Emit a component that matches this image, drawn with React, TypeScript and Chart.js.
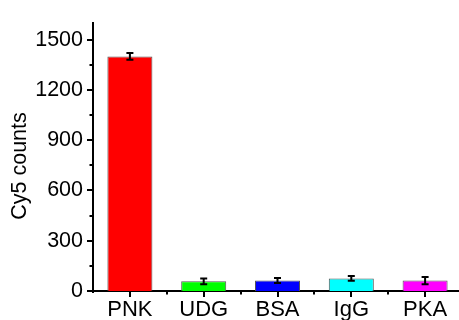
import React, { useEffect, useRef } from "react";
import { Chart, registerables } from "chart.js";

Chart.register(...registerables);

const categories = ["PNK", "UDG", "BSA", "IgG", "PKA"];
const values = [1400, 58, 62, 75, 62];
const errors = [20, 17, 15, 14, 22];
const barColors = ["#ff0000", "#00ff00", "#0000ff", "#00ffff", "#ff00ff"];
const yMajorTicks = [0, 300, 600, 900, 1200, 1500];
const yMinorTicks = [150, 450, 750, 1050, 1350];
const yMax = 1600;
const yTitle = "Cy5 counts";

const FONT = "'Liberation Sans', Arial, sans-serif";

const decorPlugin = {
  id: "decor",
  afterDatasetsDraw(chart: any) {
    const ctx = chart.ctx;
    const x = chart.scales.x;
    const y = chart.scales.y;
    ctx.save();
    ctx.strokeStyle = "#000";
    ctx.lineWidth = 2;
    values.forEach((v, i) => {
      const cx = x.getPixelForValue(i);
      const top = y.getPixelForValue(v + errors[i]);
      const bot = y.getPixelForValue(v - errors[i]);
      ctx.beginPath();
      ctx.moveTo(cx, top);
      ctx.lineTo(cx, bot);
      ctx.moveTo(cx - 3.5, top);
      ctx.lineTo(cx + 3.5, top);
      ctx.moveTo(cx - 3.5, bot);
      ctx.lineTo(cx + 3.5, bot);
      ctx.stroke();
    });
    ctx.restore();
  },
  afterDraw(chart: any) {
    const ctx = chart.ctx;
    const x = chart.scales.x;
    const y = chart.scales.y;
    const area = chart.chartArea;
    ctx.save();
    ctx.strokeStyle = "#000";
    ctx.lineWidth = 2;
    ctx.beginPath();
    // slight axis overhang at the origin
    ctx.moveTo(area.left - 3, area.bottom);
    ctx.lineTo(area.left, area.bottom);
    ctx.moveTo(area.left, area.bottom);
    ctx.lineTo(area.left, area.bottom + 2);
    yMajorTicks.forEach((v) => {
      const py = Math.round(y.getPixelForValue(v));
      ctx.moveTo(area.left - 6, py);
      ctx.lineTo(area.left, py);
    });
    yMinorTicks.forEach((v) => {
      const py = Math.round(y.getPixelForValue(v));
      ctx.moveTo(area.left - 3.5, py);
      ctx.lineTo(area.left, py);
    });
    categories.forEach((_, i) => {
      const px = Math.round(x.getPixelForValue(i));
      ctx.moveTo(px, area.bottom);
      ctx.lineTo(px, area.bottom + 6);
      if (i > 0) {
        const mx = Math.round((x.getPixelForValue(i) + x.getPixelForValue(i - 1)) / 2);
        ctx.moveTo(mx, area.bottom);
        ctx.lineTo(mx, area.bottom + 3.5);
      }
    });
    ctx.stroke();
    ctx.fillStyle = "#000";
    ctx.font = `21.5px ${FONT}`;
    ctx.textAlign = "center";
    ctx.textBaseline = "middle";
    ctx.translate(20, 166);
    ctx.rotate(-Math.PI / 2);
    ctx.fillText(yTitle, 0, 0);
    ctx.restore();
  },
};

export default function App() {
  const ref = useRef<HTMLCanvasElement>(null);
  useEffect(() => {
    if (!ref.current) return;
    const chart = new Chart(ref.current, {
      type: "bar",
      data: {
        labels: categories,
        datasets: [
          {
            data: values,
            backgroundColor: barColors,
            borderColor: "#555555",
            borderWidth: 1,
            barPercentage: 0.61,
            categoryPercentage: 1,
          },
        ],
      },
      options: {
        animation: false,
        responsive: false,
        devicePixelRatio: 1,
        layout: { padding: { top: 15, right: 0, left: 0, bottom: 0 } },
        plugins: { legend: { display: false }, tooltip: { enabled: false } },
        scales: {
          x: {
            grid: { display: false, drawTicks: false },
            border: { display: true, color: "#000", width: 2 },
            ticks: { color: "#000", font: { family: FONT, size: 22 }, padding: 6, maxRotation: 0 },
            afterFit: (s: any) => {
              s.height = 29;
            },
          },
          y: {
            min: 0,
            max: yMax,
            grid: { display: false, drawTicks: false },
            border: { display: true, color: "#000", width: 2 },
            ticks: {
              color: "#000",
              font: { family: FONT, size: 21.5 },
              padding: 10,
              callback: (v: any) => String(v),
            },
            afterBuildTicks: (s: any) => {
              s.ticks = yMajorTicks.map((v) => ({ value: v }));
            },
            afterFit: (s: any) => {
              s.width = 93;
            },
          },
        },
      },
      plugins: [decorPlugin],
    });
    return () => chart.destroy();
  }, []);
  return (
    <div style={{ position: "absolute", left: 0, top: 0, width: 459, height: 320, overflow: "hidden", background: "#fff" }}>
      <canvas ref={ref} width={462} height={320} style={{ width: 462, height: 320, display: "block" }} />
    </div>
  );
}
